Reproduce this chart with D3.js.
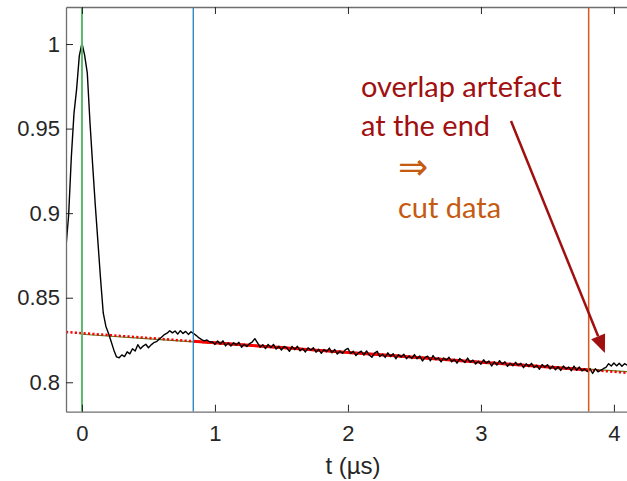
<!DOCTYPE html>
<html>
<head>
<meta charset="utf-8">
<script src="https://cdn.jsdelivr.net/npm/d3@7"></script>
<style>
  body { margin: 0; background: #fff; }
  svg { display: block; }
</style>
</head>
<body>
<div id="chart"></div>
<script>
// signal sampled every 0.02 us, first sample at t = -0.12 us
var tStart = -0.12, tStep = 0.02;
var signal = [
    0.8802, 0.8990, 0.9330, 0.9590, 0.9735, 0.9930, 1.0005, 0.9935, 0.9830, 0.9540,
    0.9290, 0.9050, 0.8830, 0.8610, 0.8410, 0.8330, 0.8288, 0.8240, 0.8190, 0.8150,
    0.8145, 0.8162, 0.8152, 0.8180, 0.8168, 0.8198, 0.8185, 0.8222, 0.8198, 0.8214,
    0.8225, 0.8204, 0.8221, 0.8234, 0.8240, 0.8254, 0.8268, 0.8282, 0.8290, 0.8305,
    0.8292, 0.8303, 0.8285, 0.8305, 0.8289, 0.8301, 0.8283, 0.8299, 0.8288, 0.8276,
    0.8262, 0.8252, 0.8245, 0.8250, 0.8238, 0.8239, 0.8224, 0.8244, 0.8226, 0.8245,
    0.8215, 0.8233, 0.8214, 0.8234, 0.8221, 0.8236, 0.8207, 0.8225, 0.8212, 0.8229,
    0.8238, 0.8258, 0.8233, 0.8208, 0.8222, 0.8199, 0.8224, 0.8205, 0.8224, 0.8196,
    0.8213, 0.8191, 0.8212, 0.8204, 0.8183, 0.8212, 0.8193, 0.8213, 0.8186, 0.8200,
    0.8179, 0.8204, 0.8189, 0.8204, 0.8178, 0.8195, 0.8171, 0.8194, 0.8181, 0.8202,
    0.8174, 0.8194, 0.8167, 0.8185, 0.8171, 0.8192, 0.8200, 0.8170, 0.8184, 0.8158,
    0.8174, 0.8184, 0.8160, 0.8185, 0.8161, 0.8148, 0.8172, 0.8183, 0.8152, 0.8166,
    0.8147, 0.8174, 0.8152, 0.8169, 0.8139, 0.8163, 0.8150, 0.8166, 0.8139, 0.8156,
    0.8140, 0.8164, 0.8139, 0.8156, 0.8126, 0.8147, 0.8154, 0.8127, 0.8158, 0.8134,
    0.8145, 0.8121, 0.8144, 0.8131, 0.8148, 0.8121, 0.8136, 0.8113, 0.8140, 0.8129,
    0.8117, 0.8143, 0.8118, 0.8131, 0.8108, 0.8125, 0.8107, 0.8133, 0.8112, 0.8126,
    0.8096, 0.8121, 0.8102, 0.8128, 0.8107, 0.8121, 0.8094, 0.8113, 0.8098, 0.8118,
    0.8099, 0.8112, 0.8086, 0.8109, 0.8093, 0.8112, 0.8087, 0.8100, 0.8077, 0.8105,
    0.8089, 0.8104, 0.8079, 0.8096, 0.8074, 0.8092, 0.8070, 0.8096, 0.8078, 0.8090,
    0.8068, 0.8096, 0.8071, 0.8090, 0.8067, 0.8079, 0.8063, 0.8081, 0.8052, 0.8080,
    0.8062, 0.8070, 0.8080, 0.8088, 0.8110, 0.8096, 0.8114, 0.8097, 0.8112, 0.8095,
    0.8110, 0.8101, 0.8113, 0.8098, 0.8109, 0.8097, 0.8107
];

// background fit (red) and second fit (green)
var fitT   = [-0.12, 0.5, 1, 1.5, 2, 2.5, 3, 3.5, 4.2];
var fitVal = [0.8297, 0.8262, 0.8233, 0.8205, 0.8176, 0.8148, 0.8119, 0.8091, 0.8050];
var bgT    = [0, 1, 2, 3, 4.2];
var bgVal  = [0.8284, 0.8230, 0.8176, 0.8120, 0.8058];

// zero time, start and end of the kept window
var zeroT = 0, startT = 0.837, cutT = 3.81;

var xTicks = [0, 1, 2, 3, 4];
var yTicks = [0.8, 0.85, 0.9, 0.95, 1];
var yTickLabels = ["0.8", "0.85", "0.9", "0.95", "1"];

(function() {
var width = 627, height = 481;
var pLeft = 66, pRight = 640, pTop = 7, pBottom = 411.7;

var x = d3.scaleLinear().domain([-0.12, 4.196]).range([pLeft, pRight]);
var y = d3.scaleLinear().domain([0.7826, 1.0219]).range([pBottom, pTop]);

var svg = d3.select("#chart").append("svg")
    .attr("width", width)
    .attr("height", height);

var defs = svg.append("defs");
defs.append("clipPath").attr("id", "plotClip")
  .append("rect")
    .attr("x", pLeft).attr("y", pTop)
    .attr("width", pRight - pLeft).attr("height", pBottom - pTop);
defs.append("clipPath").attr("id", "fitClip")
  .append("rect")
    .attr("x", x(startT)).attr("y", pTop)
    .attr("width", x(cutT) - x(startT)).attr("height", pBottom - pTop);

var data = signal.map(function(v, i) { return {t: tStart + i * tStep, v: v}; });
var fit = fitT.map(function(t, i) { return {t: t, v: fitVal[i]}; });
var bg = bgT.map(function(t, i) { return {t: t, v: bgVal[i]}; });

var line = d3.line()
    .x(function(d) { return x(d.t); })
    .y(function(d) { return y(d.v); });
var smooth = d3.line()
    .x(function(d) { return x(d.t); })
    .y(function(d) { return y(d.v); })
    .curve(d3.curveMonotoneX);

var plot = svg.append("g").attr("clip-path", "url(#plotClip)");

plot.append("path")
    .datum(bg)
    .attr("d", smooth)
    .attr("fill", "none")
    .attr("stroke", "#4b8a22")
    .attr("stroke-width", 1.2);

plot.append("path")
    .datum(fit)
    .attr("d", smooth)
    .attr("fill", "none")
    .attr("stroke", "#ff0000")
    .attr("stroke-width", 2.5)
    .attr("stroke-dasharray", "2.2,2.2");

plot.append("path")
    .datum(fit)
    .attr("d", smooth)
    .attr("clip-path", "url(#fitClip)")
    .attr("fill", "none")
    .attr("stroke", "#ff0000")
    .attr("stroke-width", 3);

plot.append("path")
    .datum(data)
    .attr("d", line)
    .attr("fill", "none")
    .attr("stroke", "#000")
    .attr("stroke-width", 1.4)
    .attr("stroke-linejoin", "round");

// vertical markers
var markers = [
    {t: zeroT, color: "#5bb86c", w: 2},
    {t: startT, color: "#1f7fbf", w: 1.3},
    {t: cutT, color: "#d9581c", w: 1.5}
];
plot.selectAll(".marker")
    .data(markers)
    .enter()
    .append("line")
      .attr("class", "marker")
      .attr("x1", function(d) { return x(d.t); })
      .attr("x2", function(d) { return x(d.t); })
      .attr("y1", pTop)
      .attr("y2", pBottom)
      .attr("stroke", function(d) { return d.color; })
      .attr("stroke-width", function(d) { return d.w; });

// axes, MATLAB style: ticks pointing in, box on top
var axisColor = "#6e6e6e";
var font = "'Liberation Sans', Arial, sans-serif";

var xAxis = svg.append("g")
    .attr("transform", "translate(0," + pBottom + ")")
    .call(d3.axisBottom(x).tickValues(xTicks).tickSizeInner(-7).tickSizeOuter(0).tickPadding(14)
        .tickFormat(d3.format("d")));

var xTop = svg.append("g")
    .attr("transform", "translate(0," + pTop + ")")
    .call(d3.axisTop(x).tickValues(xTicks).tickSizeInner(-7).tickSizeOuter(0).tickFormat(""));

var yAxis = svg.append("g")
    .attr("transform", "translate(" + pLeft + ",0)")
    .call(d3.axisLeft(y).tickValues(yTicks).tickSizeInner(-7).tickSizeOuter(0).tickPadding(6)
        .tickFormat(function(d, i) { return yTickLabels[i]; }));

[xAxis, xTop, yAxis].forEach(function(g) {
    g.select(".domain").attr("stroke", axisColor).attr("stroke-width", 1.3);
    g.selectAll(".tick line").attr("stroke", "#262626").attr("stroke-width", 1);
    g.selectAll(".tick text")
        .attr("fill", "#262626")
        .style("font-family", font)
        .style("font-size", "22px");
});

svg.append("text")
    .attr("x", (pLeft + pRight) / 2)
    .attr("y", 474)
    .attr("text-anchor", "middle")
    .attr("fill", "#262626")
    .style("font-family", font)
    .style("font-size", "24px")
    .text("t (\u00b5s)");

// annotation
var noteFont = "Lato, 'Open Sans', sans-serif";
var darkRed = "#a01010", orange = "#c55a11";

svg.append("text")
    .attr("x", x(2.098)).attr("y", y(0.9687))
    .attr("fill", darkRed)
    .style("font-family", noteFont)
    .style("font-size", "29px")
    .text("overlap artefact");
svg.append("text")
    .attr("x", x(2.098)).attr("y", y(0.9459))
    .attr("fill", darkRed)
    .style("font-family", noteFont)
    .style("font-size", "29px")
    .text("at the end");
svg.append("text")
    .attr("x", x(2.376)).attr("y", y(0.9200))
    .attr("fill", orange)
    .style("font-family", "'DejaVu Sans', sans-serif")
    .style("font-size", "36px")
    .text("\u21d2");
svg.append("text")
    .attr("x", x(2.376)).attr("y", y(0.8971))
    .attr("fill", orange)
    .style("font-family", noteFont)
    .style("font-size", "29px")
    .text("cut data");

// arrow pointing to the end of the trace
var a0 = [x(3.226), y(0.9545)], a1 = [x(3.932), y(0.8173)];
var ang = Math.atan2(a1[1] - a0[1], a1[0] - a0[0]);
var headLen = 18, headHalf = 7.5;
var base = [a1[0] - headLen * Math.cos(ang), a1[1] - headLen * Math.sin(ang)];
svg.append("line")
    .attr("x1", a0[0]).attr("y1", a0[1])
    .attr("x2", base[0]).attr("y2", base[1])
    .attr("stroke", darkRed)
    .attr("stroke-width", 2.5);
svg.append("path")
    .attr("d", "M" + a1[0] + "," + a1[1] +
        "L" + (base[0] + headHalf * Math.sin(ang)) + "," + (base[1] - headHalf * Math.cos(ang)) +
        "L" + (base[0] - headHalf * Math.sin(ang)) + "," + (base[1] + headHalf * Math.cos(ang)) + "Z")
    .attr("fill", darkRed);
})();
</script>
</body>
</html>
